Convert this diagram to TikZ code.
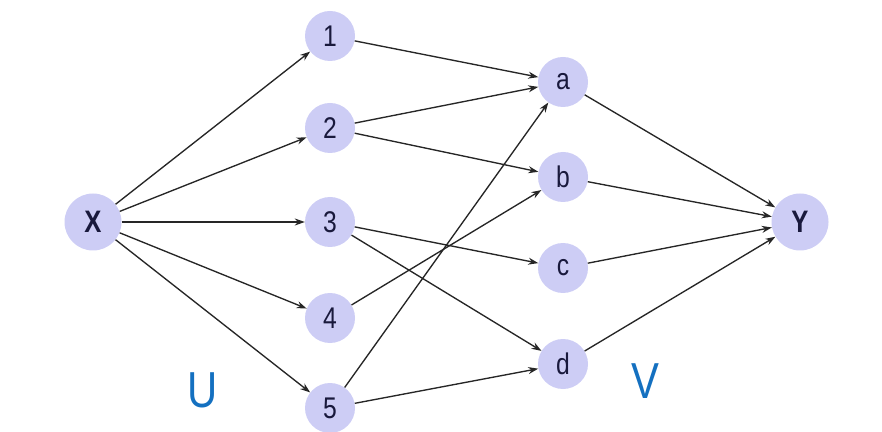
\documentclass[tikz,border=0pt]{standalone}
\usepackage{fontspec}
\setmainfont{Liberation Sans}
\usetikzlibrary{arrows.meta}
\definecolor{nodefill}{RGB}{205,205,245}
\definecolor{txt}{RGB}{25,25,60}
\definecolor{lblue}{RGB}{20,112,192}
\newcommand{\tallt}[1]{\scalebox{0.95}[1.15]{#1}}
\tikzset{
  vtx/.style={circle,fill=nodefill,draw=none,minimum size=50pt,inner sep=0pt,text=txt,font=\fontsize{26}{26}\selectfont},
  big/.style={vtx,minimum size=57pt,font=\fontsize{27}{27}\selectfont\bfseries},
  edge/.style={-{Stealth[length=10pt,width=7pt]},line width=1.35pt,black!85},
  setlbl/.style={text=lblue,font=\fontsize{44}{44}\selectfont}
}
\begin{document}
\begin{tikzpicture}[x=1pt,y=1pt]
\useasboundingbox (0,0) rectangle (882,431);
\node[big] (X) at (93,209) {\tallt{X}};
\node[big] (Y) at (800,209) {\tallt{Y}};
\node[vtx] (n1) at (330,395) {\tallt{1}};
\node[vtx] (n2) at (330,303) {\tallt{2}};
\node[vtx] (n3) at (330,209) {\tallt{3}};
\node[vtx] (n4) at (330,113) {\tallt{4}};
\node[vtx] (n5) at (330,23) {\tallt{5}};
\node[vtx] (a) at (563,349) {\tallt{a}};
\node[vtx] (b) at (563,254) {\tallt{b}};
\node[vtx] (c) at (563,163) {\tallt{c}};
\node[vtx] (d) at (563,67) {\tallt{d}};
\node[setlbl] (U) at (203,41) {\tallt{U}};
\node[setlbl] (V) at (645,50) {\tallt{V}};
\foreach \t in {n1,n2,n3,n4,n5} \draw[edge] (X) -- (\t);
\draw[edge] (n1) -- (a);
\draw[edge] (n2) -- (a);
\draw[edge] (n2) -- (b);
\draw[edge] (n3) -- (c);
\draw[edge] (n3) -- (d);
\draw[edge] (n4) -- (b);
\draw[edge] (n5) -- (a);
\draw[edge] (n5) -- (d);
\foreach \s in {a,b,c,d} \draw[edge] (\s) -- (Y);
\end{tikzpicture}
\end{document}
